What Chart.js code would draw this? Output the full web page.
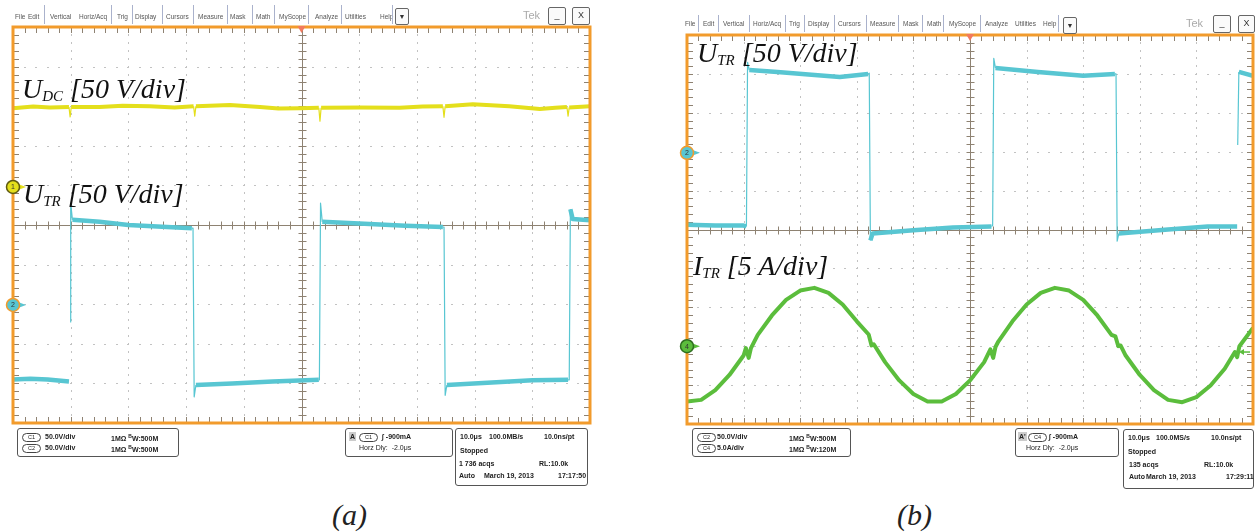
<!DOCTYPE html>
<html>
<head>
<meta charset="utf-8">
<script src="https://cdn.jsdelivr.net/npm/chart.js@4.4.1/dist/chart.umd.min.js"></script>
<style>
body{margin:0;width:1255px;height:532px;background:#fff;position:relative;overflow:hidden;font-family:"Liberation Sans",Arial,sans-serif}
canvas{position:absolute}
.mi{position:absolute;font-size:6.5px;line-height:10px;color:#555;white-space:nowrap}
.sep{position:absolute;width:1px;background:#aab2cc}
.btn{position:absolute;border:1px solid #666;border-radius:2px;font-size:9px;line-height:15px;text-align:center;color:#333;background:#fafafa}
.tek{position:absolute;font-size:11px;color:#aaa}
.lbl{position:absolute;font-family:"Liberation Serif",serif;font-style:italic;font-size:28px;line-height:28px;color:#111;white-space:nowrap}
.lbl sub{font-size:15px;vertical-align:baseline;position:relative;top:3px}
.box{position:absolute;border:1px solid #555;border-radius:3px;font-size:7px;line-height:9px;color:#222;font-weight:bold}
.box span{position:absolute;white-space:nowrap}
.box .ov{border:1px solid #444;border-radius:5px;width:17px;height:7px;line-height:7px;text-align:center;font-size:5.5px;font-weight:normal}
.box .ga{background:#ccc;padding:0 1px}
.cap{position:absolute;font-family:"Liberation Serif",serif;font-style:italic;font-size:30px;line-height:30px;color:#222}
</style>
</head>
<body>
<canvas id="scopeA" width="600" height="412" style="left:0;top:18px"></canvas>
<canvas id="scopeB" width="583" height="402" style="left:672px;top:28px"></canvas>
<div id="menus"></div>

<div class="tek" style="left:523px;top:9px">Tek</div>
<div class="btn" style="left:548px;top:7px;width:16px;height:16px">_</div>
<div class="btn" style="left:572px;top:7px;width:16px;height:16px">X</div>
<div class="btn" style="left:395px;top:8px;width:12px;height:15px;font-size:7px">▼</div>
<div class="tek" style="left:1186px;top:17px">Tek</div>
<div class="btn" style="left:1213px;top:15px;width:16px;height:16px">_</div>
<div class="btn" style="left:1238px;top:15px;width:15px;height:16px">X</div>
<div class="btn" style="left:1063px;top:17px;width:12px;height:15px;font-size:7px">▼</div>

<div class="lbl" style="left:22px;top:75px">U<sub>DC</sub> [50 V/div]</div>
<div class="lbl" style="left:23px;top:180px">U<sub>TR</sub> [50 V/div]</div>
<div class="lbl" style="left:697px;top:39px">U<sub>TR</sub> [50 V/div]</div>
<div class="lbl" style="left:693px;top:252px">I<sub>TR</sub> [5 A/div]</div>

<div class="box" style="left:17px;top:428px;width:160px;height:27px">
  <span class="ov" style="left:4px;top:4px">C1</span><span style="left:27px;top:3px">50.0V/div</span>
  <span style="left:93px;top:3px">1MΩ <sup style="font-size:5px">B</sup>W:500M</span>
  <span class="ov" style="left:4px;top:15px">C2</span><span style="left:27px;top:14px">50.0V/div</span>
  <span style="left:93px;top:14px">1MΩ <sup style="font-size:5px">B</sup>W:500M</span>
</div>
<div class="box" style="left:345px;top:428px;width:106px;height:27px">
  <span class="ga" style="left:3px;top:3px">A</span><span class="ov" style="left:13px;top:4px">C1</span>
  <span style="left:36px;top:3px">∫ -900mA</span>
  <span style="left:13px;top:14px;font-weight:normal">Horz Dly: &nbsp;-2.0μs</span>
</div>
<div class="box" style="left:455px;top:428px;width:131px;height:56px">
  <span style="left:4px;top:3px">10.0μs</span><span style="left:33px;top:3px">100.0MB/s</span><span style="left:88px;top:3px">10.0ns/pt</span>
  <span style="left:4px;top:17px">Stopped</span>
  <span style="left:3px;top:30px">1 736 acqs</span><span style="left:83px;top:30px">RL:10.0k</span>
  <span style="left:3px;top:42px">Auto</span><span style="left:28px;top:42px">March 19, 2013</span><span style="left:102px;top:42px">17:17:50</span>
</div>

<div class="box" style="left:692px;top:428px;width:157px;height:27px">
  <span class="ov" style="left:4px;top:4px">C2</span><span style="left:24px;top:3px">50.0V/div</span>
  <span style="left:96px;top:3px">1MΩ <sup style="font-size:5px">B</sup>W:500M</span>
  <span class="ov" style="left:4px;top:15px">C4</span><span style="left:24px;top:14px">5.0A/div</span>
  <span style="left:96px;top:14px">1MΩ <sup style="font-size:5px">B</sup>W:120M</span>
</div>
<div class="box" style="left:1015px;top:428px;width:102px;height:27px">
  <span class="ga" style="left:2px;top:3px">A'</span><span class="ov" style="left:12px;top:4px">C4</span>
  <span style="left:33px;top:3px">∫ -900mA</span>
  <span style="left:10px;top:14px;font-weight:normal">Horz Dly: &nbsp;-2.0μs</span>
</div>
<div class="box" style="left:1123px;top:429px;width:129px;height:58px">
  <span style="left:4px;top:3px">10.0μs</span><span style="left:32px;top:3px">100.0MS/s</span><span style="left:87px;top:3px">10.0ns/pt</span>
  <span style="left:4px;top:17px">Stopped</span>
  <span style="left:5px;top:30px">135 acqs</span><span style="left:80px;top:30px">RL:10.0k</span>
  <span style="left:5px;top:42px">Auto</span><span style="left:22px;top:42px">March 19, 2013</span><span style="left:102px;top:42px">17:29:11</span>
</div>

<div class="cap" style="left:332px;top:500px">(a)</div>
<div class="cap" style="left:897px;top:500px">(b)</div>

<script>
// time axis in divisions (0..10), values in divisions from screen centre (-5..5)
// (a) DC link voltage, ch1
const udcT = [0, 0.35, 0.64, 0.97, 0.99, 1.01, 1.5, 1.9, 2.37, 2.8, 3.13, 3.15, 3.17, 3.76, 4.28, 4.6, 4.97, 5.3, 5.32, 5.34, 6.0, 6.7, 7.1, 7.45, 7.47, 7.49, 7.97, 8.6, 9.13, 9.4, 9.6, 9.62, 9.64, 10];
const udcV = [2.95, 2.99, 2.97, 2.98, 2.73, 2.98, 2.98, 3.01, 3.0, 2.97, 3.0, 2.75, 3.0, 3.03, 2.98, 2.94, 2.95, 2.96, 2.62, 2.96, 2.97, 2.96, 2.99, 3.0, 2.72, 3.0, 3.05, 3.0, 2.93, 2.96, 2.98, 2.75, 2.97, 3.0];
// (a) transformer voltage, ch2
const utrAT = [0, 0.3, 0.6, 0.97, 0.98, 0.99, 1.0, 1.03, 1.5, 2.0, 2.5, 3.1, 3.12, 3.14, 3.17, 3.8, 4.5, 5.3, 5.31, 5.33, 5.36, 6.0, 6.8, 7.45, 7.47, 7.49, 7.52, 8.3, 9.0, 9.62, 9.64, 9.66, 9.7, 10];
const utrAV = [-3.9, -3.88, -3.9, -3.95, null, -2.45, 0.55, 0.13, 0.08, 0.0, -0.04, -0.08, -0.08, -4.34, -4.04, -4.0, -3.95, -3.91, -3.91, 0.55, 0.08, 0.04, -0.02, -0.05, -0.05, -4.3, -4.04, -3.98, -3.92, -3.91, -3.91, 0.4, 0.15, 0.12];
// (b) transformer voltage, ch2
const utrBT = [0, 0.5, 1.0, 1.05, 1.07, 1.1, 1.6, 2.2, 2.7, 3.2, 3.22, 3.24, 3.28, 4.0, 4.7, 5.38, 5.4, 5.42, 5.45, 6.2, 7.0, 7.56, 7.58, 7.6, 7.63, 8.5, 9.2, 9.72, 9.725, 9.73, 9.75, 10];
const utrBV = [0.12, 0.1, 0.1, 0.08, 4.3, 4.1, 4.05, 3.98, 3.92, 4.0, 4.02, -0.28, -0.1, -0.02, 0.05, 0.08, 0.1, 4.4, 4.15, 4.05, 3.95, 4.0, 4.0, -0.3, -0.1, 0.0, 0.08, 0.08, null, 2.17, 4.05, 3.95];
// (b) transformer current, ch4
const itrT = [0, 0.25, 0.5, 0.75, 1.0, 1.04, 1.09, 1.13, 1.25, 1.5, 1.75, 2.0, 2.25, 2.5, 2.75, 3.0, 3.21, 3.26, 3.3, 3.5, 3.75, 4.0, 4.25, 4.5, 4.75, 5.0, 5.25, 5.36, 5.41, 5.45, 5.5, 5.75, 6.0, 6.25, 6.5, 6.75, 7.0, 7.25, 7.5, 7.57, 7.62, 7.66, 7.75, 8.0, 8.25, 8.5, 8.75, 9.0, 9.25, 9.5, 9.68, 9.72, 9.76, 10];
const itrV = [-4.42, -4.38, -4.13, -3.74, -3.24, -3.05, -3.3, -3.05, -2.71, -2.21, -1.81, -1.57, -1.5, -1.63, -1.93, -2.36, -2.7, -2.98, -2.95, -3.41, -3.88, -4.23, -4.42, -4.42, -4.23, -3.88, -3.41, -3.08, -3.3, -3.02, -2.88, -2.36, -1.93, -1.63, -1.5, -1.57, -1.81, -2.21, -2.71, -2.75, -3.0, -2.98, -3.24, -3.74, -4.13, -4.38, -4.44, -4.31, -4.01, -3.58, -3.15, -3.28, -3.0, -2.53];
// channel ground markers (divisions) and trigger position
const groundA = [0.96, -2.02];
const groundALabels = ['1', '2'];
const groundB = [1.97, -3.0];
const groundBLabels = ['2', '4'];
const trigLevelB = -3.15;
const trigPos = 5;

const YEL = '#e4df1c', CYA = '#58c6d2', GRN = '#5bbd3c', ORANGE = '#f29b2c';

const menuNames = ['File','Edit','Vertical','Horiz/Acq','Trig','Display','Cursors','Measure','Mask','Math','MyScope','Analyze','Utilities','Help'];
(function buildMenus(){
  const host = document.getElementById('menus');
  const setups = [
    { xs:[15,28,50,79,117,135,166,198,230,256,279,315,345,380], seps:[44,111,132,162,193,227,252,274,308,341,392], ty:12, sy:5, sh:19 },
    { xs:[685,703,723,753,789,808,838,870,903,927,949,985,1015,1043], seps:[698,718,749,785,804,834,866,898,922,943,980,1058], ty:19, sy:15, sh:17 }
  ];
  setups.forEach(function(s){
    menuNames.forEach(function(n, i){
      const el = document.createElement('div');
      el.className = 'mi'; el.textContent = n;
      el.style.left = s.xs[i] + 'px'; el.style.top = s.ty + 'px';
      host.appendChild(el);
    });
    s.seps.forEach(function(x){
      const el = document.createElement('div');
      el.className = 'sep';
      el.style.left = x + 'px'; el.style.top = s.sy + 'px'; el.style.height = s.sh + 'px';
      host.appendChild(el);
    });
  });
})();

function pts(t, v){ return t.map(function(x, i){ return { x:x, y:v[i] }; }); }

function trace(data, color, w){
  return {
    data:data, borderColor:color, borderWidth:w, pointRadius:0, tension:0, spanGaps:false,
    borderJoinStyle:'round', borderCapStyle:'butt',
    segment:{ borderWidth: function(c){ return Math.abs(c.p1.parsed.x - c.p0.parsed.x) < 0.035 ? 1.2 : w; } }
  };
}

function scopePlugin(cfg){
  return {
    id:'scope',
    beforeDatasetsDraw:function(chart){
      const ctx = chart.ctx, a = chart.chartArea, x = chart.scales.x, y = chart.scales.y;
      ctx.save();
      ctx.fillStyle = '#c2c2c2';
      for (let i = 1; i < 10; i++){
        if (i === 5) continue;
        const px = Math.round(x.getPixelForValue(i));
        for (let j = 1; j < 50; j++){ ctx.fillRect(px, Math.round(y.getPixelForValue(-5 + j*0.2)) - 1, 1, 2); }
      }
      for (let i = -4; i <= 4; i++){
        if (i === 0) continue;
        const py = Math.round(y.getPixelForValue(i));
        for (let j = 1; j < 50; j++){ ctx.fillRect(Math.round(x.getPixelForValue(j*0.2)) - 1, py, 2, 1); }
      }
      const cx = Math.round(x.getPixelForValue(5)) + 0.5, cy = Math.round(y.getPixelForValue(0)) + 0.5;
      ctx.strokeStyle = '#8e8272'; ctx.lineWidth = 1;
      ctx.beginPath();
      ctx.moveTo(a.left, cy); ctx.lineTo(a.right, cy);
      ctx.moveTo(cx, a.top); ctx.lineTo(cx, a.bottom);
      for (let j = 1; j < 50; j++){
        const px = Math.round(x.getPixelForValue(j*0.2)) + 0.5;
        ctx.moveTo(px, cy - 4); ctx.lineTo(px, cy + 4);
        ctx.moveTo(px, a.top); ctx.lineTo(px, a.top + 6);
        ctx.moveTo(px, a.bottom); ctx.lineTo(px, a.bottom - 6);
        const py = Math.round(y.getPixelForValue(-5 + j*0.2)) + 0.5;
        ctx.moveTo(cx - 4, py); ctx.lineTo(cx + 4, py);
        ctx.moveTo(a.left, py); ctx.lineTo(a.left + 6, py);
        ctx.moveTo(a.right, py); ctx.lineTo(a.right - 6, py);
      }
      ctx.stroke();
      ctx.restore();
    },
    afterDatasetsDraw:function(chart){
      const ctx = chart.ctx, a = chart.chartArea, x = chart.scales.x, y = chart.scales.y;
      ctx.save();
      ctx.strokeStyle = ORANGE; ctx.lineWidth = 3;
      ctx.strokeRect(a.left, a.top, a.right - a.left, a.bottom - a.top);
      // trigger position
      const tx = x.getPixelForValue(trigPos);
      ctx.fillStyle = '#f27a5e';
      ctx.beginPath(); ctx.moveTo(tx - 4, a.top - 1); ctx.lineTo(tx + 4, a.top - 1); ctx.lineTo(tx, a.top + 6); ctx.closePath(); ctx.fill();
      // ground markers
      cfg.levels.forEach(function(lv, i){
        const py = y.getPixelForValue(lv), lx = a.left, col = cfg.colors[i];
        ctx.fillStyle = col;
        ctx.beginPath(); ctx.moveTo(lx + 5, py - 3); ctx.lineTo(lx + 13, py); ctx.lineTo(lx + 5, py + 3); ctx.closePath(); ctx.fill();
        ctx.beginPath(); ctx.arc(lx, py, 6.5, 0, Math.PI*2); ctx.fill();
        ctx.lineWidth = 1.5; ctx.strokeStyle = cfg.rings[i]; ctx.stroke();
        ctx.fillStyle = '#333'; ctx.font = '7px "Liberation Sans"'; ctx.textAlign = 'center'; ctx.textBaseline = 'middle';
        ctx.fillText(cfg.labels[i], lx, py + 0.5);
      });
      if (cfg.trigLevel !== undefined){
        const py = y.getPixelForValue(cfg.trigLevel), rx = a.right - 3;
        ctx.strokeStyle = GRN; ctx.fillStyle = GRN; ctx.lineWidth = 1.5;
        ctx.beginPath(); ctx.moveTo(rx - 8, py); ctx.lineTo(rx, py); ctx.stroke();
        ctx.beginPath(); ctx.moveTo(rx - 11, py); ctx.lineTo(rx - 6, py - 3); ctx.lineTo(rx - 6, py + 3); ctx.closePath(); ctx.fill();
      }
      ctx.restore();
    }
  };
}

function baseOptions(pad){
  return {
    responsive:false, animation:false, devicePixelRatio:1, events:[],
    layout:{ padding:pad },
    plugins:{ legend:{ display:false }, tooltip:{ enabled:false } },
    scales:{
      x:{ type:'linear', min:0, max:10, display:false },
      y:{ type:'linear', min:-5, max:5, display:false }
    }
  };
}

new Chart(document.getElementById('scopeA'), {
  type:'line',
  data:{ datasets:[ trace(pts(udcT, udcV), YEL, 4), trace(pts(utrAT, utrAV), CYA, 4.5) ] },
  options: baseOptions({ left:13, right:10, top:9, bottom:7 }),
  plugins:[ scopePlugin({ levels:groundA, labels:groundALabels, colors:[YEL, CYA], rings:['#5f5a10', ORANGE] }) ]
});

new Chart(document.getElementById('scopeB'), {
  type:'line',
  data:{ datasets:[ trace(pts(utrBT, utrBV), CYA, 4.5), trace(pts(itrT, itrV), GRN, 4) ] },
  options: baseOptions({ left:15, right:2, top:7, bottom:6 }),
  plugins:[ scopePlugin({ levels:groundB, labels:groundBLabels, colors:[CYA, GRN], rings:[ORANGE, '#2f6f20'], trigLevel:trigLevelB }) ]
});
</script>
</body>
</html>
